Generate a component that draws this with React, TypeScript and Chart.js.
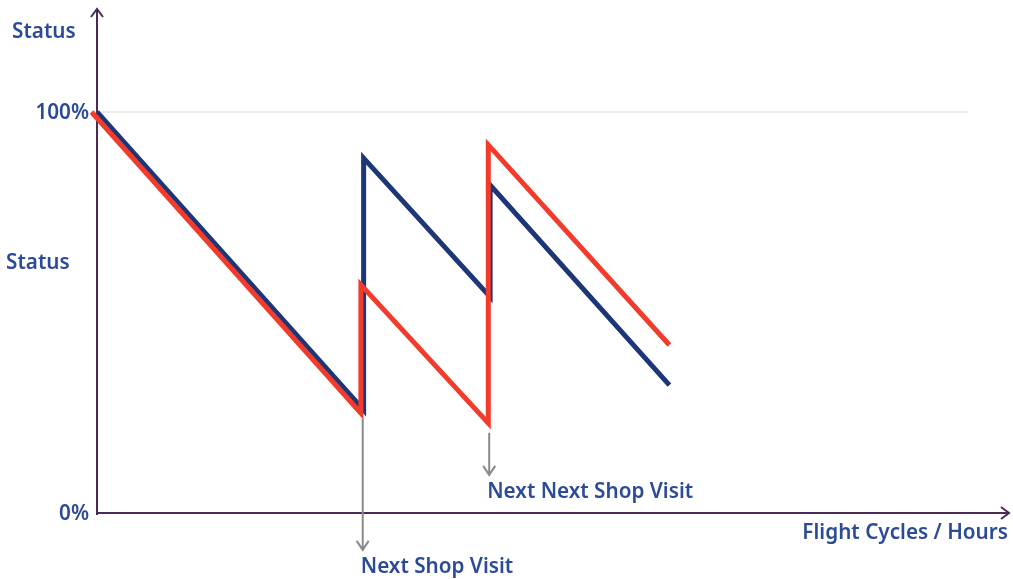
import React, { useEffect, useRef } from "react";
import { Chart, registerables } from "chart.js";

Chart.register(...registerables);

// Generic flight cycles / hours units (0..100 across the axis)
const blueX = [0, 29.3, 29.3, 43.2, 43.2, 62.9];
const blueY = [100, 25.7, 88.5, 53.9, 81.8, 31.9];
const redX = [-0.6, 29.0, 29.0, 43.0, 43.0, 62.9];
const redY = [100, 24.9, 56.9, 22.4, 91.8, 41.9];

const yTickValues = [0, 100];
const yTickLabels = ["0%", "100%"];
const yAxisTitle = "Status";
const yMidLabel = "Status";
const yMidValue = 62.3;
const xAxisTitle = "Flight Cycles / Hours";

const shopVisitX = [29.2, 43.1];
const shopVisitLabels = ["Next Shop Visit", "Next Next Shop Visit"];
const shopArrowFrom = [23.5, 20.0];
const shopArrowTo = [-9.2, 9.5];

const TEXT = "#2b4a98";
const AXIS = "#4b2a58";
const FONT = "600 20.7px 'Noto Sans'";

const annotations = {
  id: "annotations",
  afterDraw(chart: any) {
    const { ctx } = chart;
    const xs = chart.scales.x;
    const ys = chart.scales.y;
    ctx.save();
    // shop-visit arrows
    ctx.strokeStyle = "#8a8a8a";
    ctx.lineWidth = 2;
    shopVisitX.forEach((v, i) => {
      const px = xs.getPixelForValue(v);
      const a = ys.getPixelForValue(shopArrowFrom[i]);
      const b = ys.getPixelForValue(shopArrowTo[i]);
      ctx.beginPath();
      ctx.moveTo(px, a);
      ctx.lineTo(px, b);
      ctx.moveTo(px - 6, b - 9);
      ctx.lineTo(px, b);
      ctx.lineTo(px + 6, b - 9);
      ctx.stroke();
    });
    // labels
    ctx.fillStyle = TEXT;
    ctx.font = FONT;
    ctx.textBaseline = "middle";
    ctx.textAlign = "left";
    ctx.fillText(shopVisitLabels[0], xs.getPixelForValue(shopVisitX[0]) - 2, 567);
    ctx.fillText(shopVisitLabels[1], xs.getPixelForValue(shopVisitX[1]) - 2, 492);
    ctx.textAlign = "right";
    ctx.fillText(xAxisTitle, 1008, 533);
    yTickValues.forEach((v, i) => {
      ctx.fillText(yTickLabels[i], 89, ys.getPixelForValue(v) + 1);
    });
    ctx.textAlign = "left";
    ctx.fillText(yAxisTitle, 12, 32);
    ctx.fillText(yMidLabel, 6, ys.getPixelForValue(yMidValue));
    ctx.restore();
  },
  beforeDatasetsDraw(chart: any) {
    const { ctx } = chart;
    const xs = chart.scales.x;
    const ys = chart.scales.y;
    const x0 = xs.getPixelForValue(0);
    const y0 = ys.getPixelForValue(0);
    const y100 = ys.getPixelForValue(100);
    ctx.save();
    // gridline at 100%
    ctx.strokeStyle = "#ececec";
    ctx.lineWidth = 2;
    ctx.beginPath();
    ctx.moveTo(x0, y100);
    ctx.lineTo(968, y100);
    ctx.stroke();
    // axes
    ctx.strokeStyle = AXIS;
    ctx.lineWidth = 2;
    ctx.beginPath();
    ctx.moveTo(x0, y0 + 2);
    ctx.lineTo(x0, 9);
    ctx.moveTo(x0 - 6, 17);
    ctx.lineTo(x0, 9);
    ctx.lineTo(x0 + 6, 17);
    ctx.moveTo(x0, y0);
    ctx.lineTo(1009, y0);
    ctx.moveTo(1001, y0 - 6);
    ctx.lineTo(1009, y0);
    ctx.lineTo(1001, y0 + 6);
    ctx.stroke();
    ctx.restore();
  },
};

export default function App() {
  const ref = useRef<HTMLCanvasElement>(null);
  useEffect(() => {
    document.body.style.margin = "0";
    const chart = new Chart(ref.current!, {
      type: "line",
      data: {
        datasets: [
          {
            label: "Red",
            data: redX.map((x, i) => ({ x, y: redY[i] })),
            borderColor: "#f23b2b",
            borderWidth: 5,
            pointRadius: 0,
            clip: false as any,
            tension: 0,
            borderJoinStyle: "miter",
          },
          {
            label: "Blue",
            data: blueX.map((x, i) => ({ x, y: blueY[i] })),
            borderColor: "#1c3677",
            borderWidth: 5,
            pointRadius: 0,
            clip: false as any,
            tension: 0,
            borderJoinStyle: "miter",
          },
        ],
      },
      options: {
        animation: false,
        responsive: false,
        layout: { padding: { left: 97, right: 6, top: 112, bottom: 66 } },
        plugins: { legend: { display: false }, tooltip: { enabled: false } },
        scales: {
          x: { type: "linear", min: 0, max: 100, display: false },
          y: { type: "linear", min: 0, max: 100, display: false },
        },
      },
      plugins: [annotations],
    });
    return () => chart.destroy();
  }, []);
  return (
    <div style={{ width: 1013, height: 579 }}>
      <canvas ref={ref} width={1013} height={579} />
    </div>
  );
}
